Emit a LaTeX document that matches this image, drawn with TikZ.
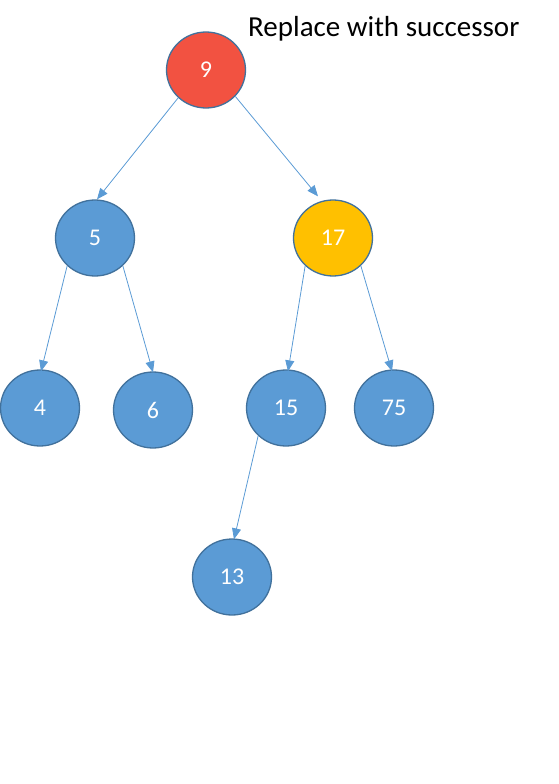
\documentclass[tikz,border=0pt]{standalone}
\usepackage{fontspec}
\setmainfont{Carlito}
\usetikzlibrary{arrows.meta,shapes.geometric}
\definecolor{nodeblue}{HTML}{5B9BD5}
\definecolor{nodeborder}{HTML}{41719C}
\definecolor{nodered}{HTML}{F25241}
\definecolor{nodeorange}{HTML}{FFC000}
\tikzset{
  bst/.style={ellipse, draw=nodeborder, line width=1.3pt, fill=nodeblue,
    minimum width=79pt, minimum height=76pt, inner sep=0pt,
    text=white, font=\fontsize{24}{28}\selectfont},
  link/.style={draw=nodeblue, line width=0.8pt, -{Triangle[length=11pt,width=9pt]}},
}
\begin{document}
\begin{tikzpicture}[x=1pt,y=-1pt]
\useasboundingbox (0,0) rectangle (558,784);
\node[bst, fill=nodered] (n9) at (206,70) {9};
\node[bst] (n5) at (95,238) {5};
\node[bst, fill=nodeorange] (n17) at (333,238) {17};
\node[bst] (n4) at (40,408) {4};
\node[bst] (n6) at (153,410) {6};
\node[bst] (n15) at (286,408) {15};
\node[bst] (n75) at (394,408) {75};
\node[bst] (n13) at (232,577) {13};
\node[anchor=base west, inner sep=0pt, font=\fontsize{29}{33}\selectfont] (title) at (248,37) {Replace with successor};
\draw[link] (n9.225) -- ([xshift=2pt]n5.north);
\draw[link] (n9.318) -- ([xshift=-15pt,yshift=3pt]n17.north);
\draw[link] (n5.225) -- ([xshift=1pt,yshift=-2pt]n4.north);
\draw[link] (n5.315) -- ([yshift=-1pt]n6.north);
\draw[link] (n17.225) -- ([xshift=2pt,yshift=-2pt]n15.north);
\draw[link] (n17.315) -- ([xshift=-2pt,yshift=-2pt]n75.north);
\draw[link] (n15.225) -- ([xshift=2pt,yshift=-1pt]n13.north);
\end{tikzpicture}
\end{document}
